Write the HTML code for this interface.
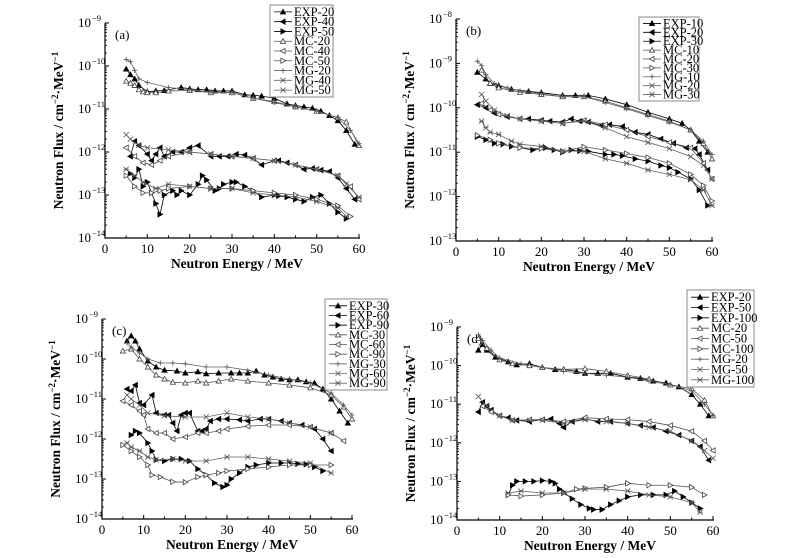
<!DOCTYPE html>
<html><head><meta charset="utf-8"><style>
html,body{margin:0;padding:0;background:#fff;}
svg{display:block;}
svg text{font-family:"Liberation Serif","DejaVu Serif",serif;}
</style></head><body>
<svg id="chart" width="807" height="558" viewBox="0 0 807 558"></svg>
<script>
// X ticks (MeV) and y decade exponents
const xTicks = [0,10,20,30,40,50,60];
const seriesNamesA = ["EXP-20","EXP-40","EXP-50","MC-20","MC-40","MC-50","MG-20","MG-40","MG-50"];
const seriesNamesB = ["EXP-10","EXP-20","EXP-30","MC-10","MC-20","MC-30","MG-10","MG-20","MG-30"];
const seriesNamesC = ["EXP-30","EXP-60","EXP-90","MC-30","MC-60","MC-90","MG-30","MG-60","MG-90"];
const seriesNamesD = ["EXP-20","EXP-50","EXP-100","MC-20","MC-50","MC-100","MG-20","MG-50","MG-100"];
const decadesA = [-14,-13,-12,-11,-10,-9];
const decadesB = [-13,-12,-11,-10,-9,-8];
const decadesC = [-14,-13,-12,-11,-10,-9];
const decadesD = [-14,-13,-12,-11,-10,-9];
// values: [energy MeV, log10 flux]
const A_EXP20=[[5,-10.07],[6,-10.2],[7,-10.3],[8,-10.45],[10,-10.6],[12,-10.58],[14,-10.57],[18,-10.5],[20,-10.53],[22,-10.55],[24,-10.55],[26,-10.58],[28,-10.58],[30,-10.58],[33,-10.67],[35,-10.68],[37,-10.7],[40,-10.75],[43,-10.88],[45,-10.92],[47,-10.95],[49,-10.98],[51,-11.05],[53,-11.15],[55,-11.27],[57,-11.5],[59,-11.82]];
const A_EXP40=[[6,-12.1],[7,-11.75],[8,-11.85],[10,-12.05],[11,-12.2],[12,-12.05],[13,-11.9],[14,-12.1],[16,-12.0],[18,-12.0],[20,-11.9],[22,-11.85],[25,-12.1],[27,-12.1],[29,-12.1],[31,-12.05],[33,-12.07],[35,-12.15],[37,-12.3],[40,-12.2],[41,-12.2],[43,-12.25],[45,-12.3],[47,-12.4],[49,-12.38],[51,-12.42],[53,-12.45],[55,-12.6],[57,-12.85],[59,-13.1]];
const A_EXP50=[[6,-12.5],[7,-12.6],[8,-12.4],[9,-12.8],[10,-12.7],[11,-12.95],[12,-13.2],[13,-13.45],[14,-13.0],[16,-12.9],[17,-13.0],[18,-12.9],[20,-13.0],[22,-12.75],[23,-12.55],[24,-12.65],[26,-12.9],[27,-12.85],[28,-12.75],[30,-12.7],[31,-12.7],[33,-12.8],[35,-12.9],[37,-13.05],[40,-13.0],[41,-13.02],[43,-13.05],[45,-13.1],[47,-13.15],[49,-13.05],[51,-13.0],[53,-13.2],[55,-13.4],[57,-13.55]];
const A_MC20=[[5,-10.35],[6,-10.4],[7,-10.45],[8,-10.55],[9,-10.6],[10,-10.62],[12,-10.62],[15,-10.58],[20,-10.57],[25,-10.62],[30,-10.62],[35,-10.75],[40,-10.83],[45,-10.95],[50,-11.05],[55,-11.2],[57,-11.3],[60,-11.85]];
const A_MC40=[[5,-11.9],[7,-12.1],[9,-12.25],[11,-12.3],[13,-12.2],[15,-12.1],[20,-12.0],[25,-12.05],[30,-12.1],[35,-12.15],[40,-12.2],[45,-12.3],[50,-12.4],[55,-12.55],[58,-12.8],[60,-13.1]];
const A_MC50=[[5,-12.55],[7,-12.8],[9,-12.95],[11,-12.95],[13,-12.9],[15,-12.85],[20,-12.8],[25,-12.85],[30,-12.85],[35,-12.9],[40,-12.95],[45,-13.0],[50,-13.1],[55,-13.25],[58,-13.5]];
const A_MG20=[[5,-9.85],[6,-9.9],[7,-10.1],[8,-10.3],[10,-10.38],[15,-10.5],[20,-10.55],[25,-10.6],[30,-10.62],[35,-10.75],[40,-10.85],[45,-10.95],[50,-11.05],[55,-11.2],[58,-11.5],[60,-11.8]];
const A_MG40=[[5,-11.6],[6,-11.7],[8,-11.85],[10,-11.9],[15,-11.95],[20,-12.0],[25,-12.05],[30,-12.1],[35,-12.15],[40,-12.2],[45,-12.3],[50,-12.4],[55,-12.55],[57,-12.75],[60,-13.05]];
const A_MG50=[[5,-12.4],[7,-12.55],[9,-12.7],[12,-12.85],[15,-12.75],[20,-12.8],[25,-12.85],[30,-12.85],[35,-12.95],[40,-13.0],[45,-13.05],[50,-13.15],[55,-13.3],[57,-13.5]];

const B_EXP10=[[5,-9.2],[7,-9.35],[8,-9.45],[10,-9.5],[13,-9.58],[17,-9.63],[20,-9.66],[25,-9.72],[28,-9.72],[31,-9.72],[35,-9.8],[40,-9.93],[45,-10.1],[50,-10.25],[53,-10.35],[55,-10.5],[57,-10.75],[59,-11.0]];
const B_EXP20=[[5,-9.93],[7,-10.0],[9,-10.12],[12,-10.2],[15,-10.25],[17,-10.25],[20,-10.28],[22,-10.3],[25,-10.32],[27,-10.25],[29,-10.3],[31,-10.32],[34,-10.4],[36,-10.38],[39,-10.42],[42,-10.55],[45,-10.6],[48,-10.7],[51,-10.8],[54,-10.9],[56,-10.92],[57,-11.05],[59,-11.4]];
const B_EXP30=[[5,-10.65],[7,-10.72],[9,-10.8],[11,-10.82],[13,-10.87],[15,-10.9],[18,-10.95],[21,-10.9],[23,-10.95],[25,-11.0],[27,-10.95],[29,-10.97],[31,-10.98],[35,-11.05],[37,-11.05],[39,-11.08],[42,-11.15],[45,-11.2],[48,-11.3],[50,-11.35],[52,-11.45],[55,-11.6],[57,-11.85],[59,-12.2]];
const B_MC10=[[6,-9.15],[8,-9.45],[10,-9.55],[15,-9.65],[20,-9.7],[25,-9.75],[30,-9.75],[35,-9.85],[40,-10.0],[45,-10.15],[50,-10.3],[55,-10.5],[58,-10.8],[60,-11.15]];
const B_MC20=[[6,-9.9],[8,-10.05],[10,-10.15],[15,-10.25],[20,-10.3],[25,-10.35],[30,-10.28],[35,-10.38],[40,-10.5],[45,-10.65],[50,-10.78],[55,-10.9],[58,-11.25],[60,-11.6]];
const B_MC30=[[5,-10.62],[8,-10.72],[10,-10.8],[15,-10.9],[20,-10.92],[25,-10.98],[30,-10.88],[35,-10.95],[40,-11.03],[45,-11.12],[50,-11.25],[55,-11.5],[58,-11.75],[60,-12.1]];
const B_MG10=[[5,-8.95],[6,-9.05],[7,-9.25],[9,-9.45],[12,-9.55],[15,-9.62],[20,-9.68],[25,-9.75],[30,-9.75],[35,-9.88],[40,-10.02],[45,-10.18],[50,-10.32],[55,-10.5],[58,-10.75],[60,-11.05]];
const B_MG20=[[6,-9.7],[7,-9.85],[9,-10.05],[12,-10.18],[15,-10.25],[20,-10.3],[25,-10.35],[30,-10.3],[35,-10.45],[40,-10.65],[45,-10.78],[50,-10.92],[55,-11.1],[58,-11.3],[60,-11.6]];
const B_MG30=[[6,-10.3],[7,-10.45],[8,-10.55],[10,-10.6],[13,-10.75],[15,-10.82],[20,-10.87],[25,-10.97],[30,-10.98],[35,-11.15],[40,-11.25],[45,-11.4],[50,-11.5],[55,-11.62],[58,-11.85],[60,-12.2]];

const C_EXP30=[[6,-9.55],[7,-9.42],[8,-9.55],[9,-9.75],[11,-10.05],[13,-10.2],[15,-10.28],[18,-10.3],[20,-10.35],[23,-10.32],[25,-10.37],[28,-10.35],[31,-10.35],[33,-10.35],[35,-10.35],[37,-10.3],[39,-10.4],[41,-10.45],[43,-10.5],[45,-10.52],[47,-10.52],[49,-10.57],[51,-10.6],[53,-10.75],[55,-11.0],[57,-11.3],[59,-11.6]];
const C_EXP60=[[6,-10.75],[7,-10.8],[8,-10.65],[9,-11.1],[10,-11.15],[12,-10.9],[13,-11.35],[15,-11.4],[16,-11.4],[17,-11.6],[18,-11.8],[19,-11.4],[20,-11.35],[21,-11.35],[23,-11.8],[24,-11.8],[25,-11.75],[26,-11.55],[28,-11.5],[30,-11.5],[33,-11.52],[35,-11.55],[38,-11.5],[40,-11.5],[43,-11.55],[45,-11.6],[48,-11.65],[51,-11.75],[53,-12.0],[55,-12.3]];
const C_EXP90=[[7,-11.9],[8,-11.8],[9,-11.85],[11,-12.1],[12,-12.3],[13,-12.52],[15,-12.55],[17,-12.5],[19,-12.5],[21,-12.55],[23,-12.75],[25,-12.9],[27,-13.1],[29,-13.2],[30,-13.15],[31,-13.0],[33,-12.85],[35,-12.7],[37,-12.65],[40,-12.6],[43,-12.6],[45,-12.6],[47,-12.62],[49,-12.63],[51,-12.7],[53,-12.8]];
const C_MC30=[[5,-9.8],[7,-9.75],[9,-10.0],[11,-10.2],[13,-10.4],[15,-10.5],[17,-10.58],[20,-10.6],[23,-10.55],[25,-10.6],[28,-10.55],[31,-10.5],[35,-10.55],[40,-10.6],[45,-10.65],[50,-10.72],[55,-10.9],[58,-11.2],[60,-11.5]];
const C_MC60=[[5,-11.05],[7,-11.15],[9,-11.3],[10,-11.4],[11,-11.75],[13,-11.85],[15,-11.85],[17,-12.0],[20,-11.95],[23,-11.85],[25,-11.85],[28,-11.8],[30,-11.75],[35,-11.68],[40,-11.65],[45,-11.65],[50,-11.7],[55,-11.85],[58,-12.05]];
const C_MC90=[[5,-12.15],[7,-12.3],[9,-12.45],[11,-12.65],[12,-12.9],[14,-12.95],[17,-13.07],[20,-13.08],[23,-12.95],[25,-12.9],[28,-12.85],[30,-12.8],[35,-12.75],[40,-12.7],[45,-12.65],[50,-12.65],[55,-12.65]];
const C_MG30=[[6,-9.6],[7,-9.7],[9,-9.85],[11,-10.0],[14,-10.1],[17,-10.1],[20,-10.12],[25,-10.2],[30,-10.2],[35,-10.28],[40,-10.4],[45,-10.5],[50,-10.6],[55,-10.85],[58,-11.15],[60,-11.4]];
const C_MG60=[[6,-10.9],[7,-11.0],[9,-11.15],[11,-11.35],[15,-11.42],[20,-11.45],[25,-11.45],[30,-11.35],[35,-11.45],[40,-11.5],[45,-11.6],[50,-11.7],[55,-11.85]];
const C_MG90=[[6,-12.1],[7,-12.2],[9,-12.3],[11,-12.45],[13,-12.52],[17,-12.5],[20,-12.55],[25,-12.55],[30,-12.45],[35,-12.45],[40,-12.5],[45,-12.55],[50,-12.6],[55,-12.85]];

const D_EXP20=[[5,-9.6],[6,-9.45],[7,-9.6],[9,-9.78],[12,-9.9],[14,-9.98],[17,-9.95],[20,-10.05],[23,-10.1],[25,-10.1],[28,-10.15],[30,-10.2],[33,-10.2],[36,-10.2],[40,-10.3],[43,-10.33],[46,-10.4],[49,-10.45],[52,-10.55],[55,-10.75],[57,-11.0],[59,-11.3]];
const D_EXP50=[[5,-11.2],[6,-10.95],[7,-11.05],[8,-11.15],[10,-11.3],[12,-11.35],[14,-11.42],[17,-11.45],[20,-11.4],[22,-11.38],[24,-11.5],[25,-11.6],[27,-11.45],[30,-11.38],[33,-11.45],[36,-11.45],[40,-11.5],[43,-11.55],[46,-11.6],[49,-11.7],[52,-11.8],[55,-11.95],[57,-12.1],[59,-12.45]];
const D_EXP100=[[12,-13.35],[13,-13.1],[14,-13.0],[16,-13.0],[18,-13.0],[20,-12.98],[22,-13.0],[23,-13.05],[24,-13.2],[25,-13.28],[27,-13.45],[29,-13.6],[31,-13.7],[32,-13.73],[34,-13.73],[36,-13.6],[38,-13.5],[40,-13.4],[43,-13.35],[46,-13.35],[49,-13.35],[51,-13.25],[53,-13.4],[55,-13.55],[57,-13.7]];
const D_MC20=[[5,-9.3],[7,-9.55],[10,-9.85],[13,-9.95],[17,-10.0],[20,-10.05],[25,-10.1],[30,-10.08],[35,-10.15],[40,-10.25],[45,-10.35],[50,-10.5],[55,-10.6],[58,-10.9],[60,-11.3]];
const D_MC50=[[6,-11.05],[8,-11.2],[10,-11.3],[13,-11.42],[17,-11.4],[20,-11.4],[25,-11.45],[30,-11.35],[35,-11.38],[40,-11.4],[45,-11.45],[50,-11.55],[55,-11.7],[58,-11.95],[60,-12.2]];
const D_MC100=[[12,-13.35],[15,-13.38],[20,-13.35],[25,-13.3],[28,-13.2],[30,-13.18],[35,-13.15],[40,-13.05],[45,-13.1],[50,-13.1],[55,-13.15],[58,-13.35]];
const D_MG20=[[5,-9.2],[6,-9.35],[8,-9.6],[10,-9.8],[15,-9.95],[20,-10.05],[25,-10.15],[30,-10.2],[35,-10.25],[40,-10.3],[45,-10.4],[50,-10.5],[55,-10.65],[58,-11.0],[60,-11.3]];
const D_MG50=[[5,-10.8],[7,-11.05],[10,-11.3],[13,-11.42],[17,-11.42],[20,-11.42],[25,-11.5],[30,-11.4],[35,-11.45],[40,-11.5],[45,-11.6],[50,-11.7],[55,-11.95],[58,-12.2],[60,-12.4]];
const D_MG100=[[12,-13.3],[15,-13.25],[20,-13.3],[25,-13.3],[30,-13.2],[35,-13.2],[40,-13.25],[45,-13.35],[50,-13.4],[55,-13.55],[57,-13.8]];

const NS="http://www.w3.org/2000/svg";
const FONT='"Liberation Serif","DejaVu Serif",serif';
const svg=document.getElementById('chart');
function mk(tag,attrs,parent){const e=document.createElementNS(NS,tag);for(const k in attrs)e.setAttribute(k,attrs[k]);if(tag==='text')e.setAttribute('font-family',FONT);(parent||svg).appendChild(e);return e;}

const styles=[
 {m:'tu',fill:'#000',stroke:'#000',line:'#000'},
 {m:'tl',fill:'#000',stroke:'#000',line:'#000'},
 {m:'tr',fill:'#000',stroke:'#000',line:'#000'},
 {m:'tu',fill:'#fff',stroke:'#444',line:'#555'},
 {m:'tl',fill:'#fff',stroke:'#444',line:'#555'},
 {m:'tr',fill:'#fff',stroke:'#444',line:'#555'},
 {m:'plus',fill:'none',stroke:'#555',line:'#666'},
 {m:'x',fill:'none',stroke:'#555',line:'#666'},
 {m:'star',fill:'none',stroke:'#555',line:'#666'}
];
function marker(g,type,x,y,st,s){
 let d;
 if(type==='tu')d=`M${x},${y-s}L${x+s},${y+s*0.8}L${x-s},${y+s*0.8}Z`;
 else if(type==='tl')d=`M${x-s},${y}L${x+s*0.8},${y-s}L${x+s*0.8},${y+s}Z`;
 else if(type==='tr')d=`M${x+s},${y}L${x-s*0.8},${y-s}L${x-s*0.8},${y+s}Z`;
 else if(type==='plus')d=`M${x-s},${y}H${x+s}M${x},${y-s}V${y+s}`;
 else if(type==='x')d=`M${x-s},${y-s}L${x+s},${y+s}M${x-s},${y+s}L${x+s},${y-s}`;
 else d=`M${x-s},${y-s}L${x+s},${y+s}M${x-s},${y+s}L${x+s},${y-s}M${x-s},${y}H${x+s}`;
 const p=mk('path',{d:d,fill:st.fill,stroke:st.stroke,'stroke-width':0.8},g);
 
 
}

function panel(cfg){
 const {id,x0,x1,yT,yB,decades,names,series,label,leg}=cfg;
 const eTop=decades[decades.length-1], eBot=decades[0];
 const X=v=>x0+(v-0)/60*(x1-x0);
 const Y=v=>yB-(v-eBot)/(eTop-eBot)*(yB-yT);
 const g=mk('g',{});
 
 
 const ax=mk('path',{d:`M${x0},${yT}V${yB}H${x1+1}`,stroke:'#000','stroke-width':1.2,fill:'none'},g);
 
 
 xTicks.forEach((t,i)=>{
  mk('line',{x1:X(t),x2:X(t),y1:yB,y2:yB-4,stroke:'#000','stroke-width':1},g);
  if(i<xTicks.length-1)mk('line',{x1:X(t+5),x2:X(t+5),y1:yB,y2:yB-2.5,stroke:'#000','stroke-width':1},g);
  const tx=mk('text',{x:X(t),y:yB+15,'text-anchor':'middle','font-size':13},g);
  tx.textContent=t;
  
  
 });
 decades.forEach((e,i)=>{
  const y=Y(e);
  mk('line',{x1:x0,x2:x0+4,y1:y,y2:y,stroke:'#000','stroke-width':1},g);
  if(i<decades.length-1){for(let k=2;k<10;k++){const yy=Y(e+Math.log10(k));mk('line',{x1:x0,x2:x0+2,y1:yy,y2:yy,stroke:'#000','stroke-width':0.8},g);}}
  const tx=mk('text',{x:x0-14,y:y+4,'text-anchor':'end','font-size':13},g);
  tx.textContent='10';
  
  
  const sp=mk('text',{x:x0-13,y:y-2,'font-size':8.5},g);
  sp.textContent='\u2212'+Math.abs(e);
  
  
 });
 const xt=mk('text',{x:(x0+x1)/2+5,y:yB+30,'text-anchor':'middle','font-size':13.5,'font-weight':'bold'},g);
 xt.textContent='Neutron Energy / MeV';
 
 
 const cy=(yT+yB)/2, cx=x0-42;
 const yt=mk('text',{x:cx,y:cy,'text-anchor':'middle','font-size':13.5,'font-weight':'bold',transform:`rotate(-90 ${cx} ${cy})`},g);
 yt.innerHTML='Neutron Flux / cm<tspan dy="-5" font-size="9">\u22122</tspan><tspan dy="5">\u00b7MeV</tspan><tspan dy="-5" font-size="9">\u22121</tspan>';
 
 
 const pl=mk('text',{x:x0+10,y:yT+16,'font-size':13},g);
 pl.textContent=label;
 
 
 series.forEach((data,i)=>{
  const st=styles[i];
  const sg=mk('g',{},g);
  
  
  const ln=mk('polyline',{points:data.map(p=>X(p[0])+','+Y(p[1])).join(' '),fill:'none',stroke:st.line,'stroke-width':0.8},sg);
  
  
  data.forEach(p=>marker(sg,st.m,X(p[0]),Y(p[1]),st,2.6));
 });
 const lg=mk('g',{},g);
 
 
 const rowH=(leg.h-4)/9;
 mk('rect',{x:leg.x,y:leg.y,width:leg.w,height:leg.h,fill:'#fff',stroke:'#888','stroke-width':1},lg);
 names.forEach((n,i)=>{
  const st=styles[i];
  const y=leg.y+2+rowH*(i+0.5);
  const eg=mk('g',{},lg);
  
  
  mk('line',{x1:leg.x+4,x2:leg.x+22,y1:y,y2:y,stroke:st.line,'stroke-width':0.8},eg);
  marker(eg,st.m,leg.x+13,y,st,2.6);
  const t=mk('text',{x:leg.x+24,y:y+4,'font-size':12.5},eg);
  t.textContent=n;
 });
}

panel({id:'a',x0:105,x1:359,yT:23,yB:238,decades:decadesA,names:seriesNamesA,label:'(a)',
 series:[A_EXP20,A_EXP40,A_EXP50,A_MC20,A_MC40,A_MC50,A_MG20,A_MG40,A_MG50],leg:{x:270,y:5,w:63,h:92}});
panel({id:'b',x0:456,x1:712,yT:19,yB:241,decades:decadesB,names:seriesNamesB,label:'(b)',
 series:[B_EXP10,B_EXP20,B_EXP30,B_MC10,B_MC20,B_MC30,B_MG10,B_MG20,B_MG30],leg:{x:639,y:17,w:60,h:84}});
panel({id:'c',x0:102,x1:352,yT:319,yB:519,decades:decadesC,names:seriesNamesC,label:'(c)',
 series:[C_EXP30,C_EXP60,C_EXP90,C_MC30,C_MC60,C_MC90,C_MG30,C_MG60,C_MG90],leg:{x:325,y:299,w:62,h:91}});
panel({id:'d',x0:457,x1:713,yT:327,yB:520,decades:decadesD,names:seriesNamesD,label:'(d)',
 series:[D_EXP20,D_EXP50,D_EXP100,D_MC20,D_MC50,D_MC100,D_MG20,D_MG50,D_MG100],leg:{x:687,y:290,w:67,h:97}});
</script>
</body></html>
